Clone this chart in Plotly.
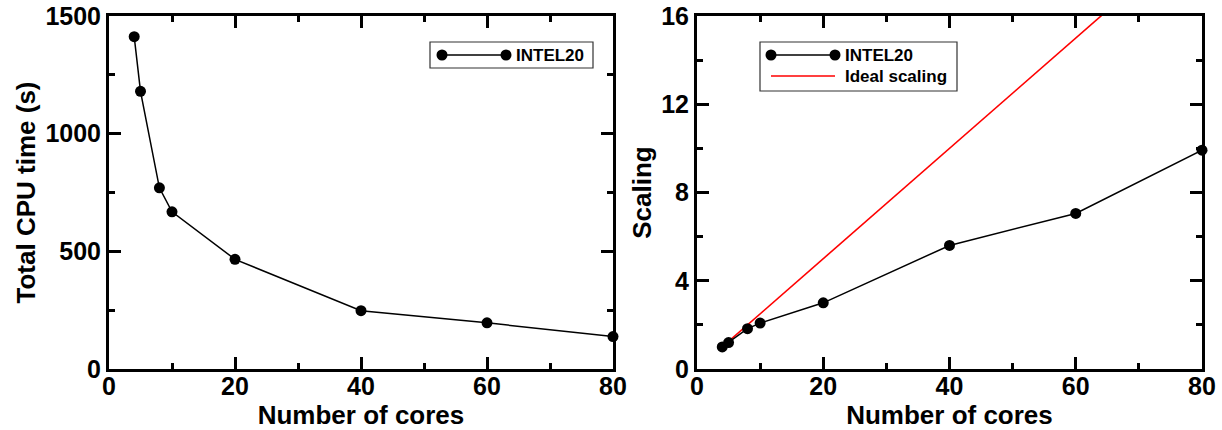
import plotly.graph_objects as go

# ---------------- data ----------------
cores = [4, 5, 8, 10, 20, 40, 60, 80]
cpu_time = [1412, 1180, 770, 668, 466, 248, 196, 138]
scaling = [1.0, 1.2, 1.83, 2.08, 3.0, 5.6, 7.05, 9.92]
ideal_x = [4, 80]
ideal_y = [1, 20]
series_name = "INTEL20"
ideal_name = "Ideal scaling"
x_title = "Number of cores"
y1_title = "Total CPU time (s)"
y2_title = "Scaling"

# ---------------- layout helpers ----------------
W, H = 1222, 430
FONT = "Liberation Sans, Arial, Helvetica, sans-serif"


def px(x):
    return x / W


def py(y):
    return 1 - y / H


fig = go.Figure()

fig.add_trace(go.Scatter(
    x=cores, y=cpu_time, mode="lines+markers", name=series_name,
    line=dict(color="black", width=1.5),
    marker=dict(color="black", size=11, symbol="circle"),
    cliponaxis=False, xaxis="x", yaxis="y", showlegend=False))

fig.add_trace(go.Scatter(
    x=ideal_x, y=ideal_y, mode="lines", name=ideal_name,
    line=dict(color="#ff0000", width=1.6),
    xaxis="x2", yaxis="y2", showlegend=False))

fig.add_trace(go.Scatter(
    x=cores, y=scaling, mode="lines+markers", name=series_name,
    line=dict(color="black", width=1.5),
    marker=dict(color="black", size=11, symbol="circle"),
    cliponaxis=False, xaxis="x2", yaxis="y2", showlegend=False))

tickfont = dict(family=FONT, size=25, color="black", weight="bold")
titlefont = dict(family=FONT, size=26, color="black", weight="bold")


def xax(domain, anchor):
    return dict(domain=domain, anchor=anchor, range=[0, 80], tick0=0, dtick=20,
                ticks="inside", ticklen=12, tickwidth=2.5, tickcolor="black",
                showline=True, linewidth=3, linecolor="black", mirror="ticks",
                showgrid=False, zeroline=False, layer="below traces",
                automargin=False, ticklabelstandoff=-7,
                minor=dict(dtick=10, ticks="inside", ticklen=6, tickwidth=2.5,
                           tickcolor="black", showgrid=False),
                tickfont=tickfont,
                title=dict(text=x_title, font=titlefont, standoff=12))


def yax(domain, anchor, rng, dt, title):
    return dict(domain=domain, anchor=anchor, range=rng, tick0=0, dtick=dt,
                ticks="inside", ticklen=12, tickwidth=2.5, tickcolor="black",
                showline=True, linewidth=3, linecolor="black", mirror="ticks",
                showgrid=False, zeroline=False, layer="below traces",
                automargin=False,
                minor=dict(dtick=dt / 2, ticks="inside", ticklen=6, tickwidth=2.5,
                           tickcolor="black", showgrid=False),
                tickfont=tickfont,
                title=dict(text=title, font=titlefont, standoff=3))


ydom = [py(369), py(16)]
fig.update_layout(
    width=W, height=H,
    margin=dict(l=0, r=0, t=0, b=0),
    paper_bgcolor="white", plot_bgcolor="white",
    showlegend=False,
    xaxis=xax([px(109), px(613)], "y"),
    yaxis=yax(ydom, "x", [0, 1500], 500, y1_title),
    xaxis2=xax([px(697), px(1202)], "y2"),
    yaxis2=yax(ydom, "x2", [0, 16], 4, y2_title),
)

# ---------------- Grace-style legends (decoration) ----------------
shapes = []
annotations = []


def legend_box(x0, y0, x1, y1):
    shapes.append(dict(type="rect", xref="paper", yref="paper",
                       x0=px(x0), x1=px(x1), y0=py(y1), y1=py(y0),
                       line=dict(color="#333333", width=1.2),
                       fillcolor="white", layer="above"))


def dot(x, y):
    shapes.append(dict(type="circle", xref="paper", yref="paper",
                       xsizemode="pixel", ysizemode="pixel",
                       xanchor=px(x), yanchor=py(y),
                       x0=-5.5, x1=5.5, y0=-5.5, y1=5.5,
                       fillcolor="black", line=dict(color="black", width=0),
                       layer="above"))


def seg(x0, x1, y, color, width):
    shapes.append(dict(type="line", xref="paper", yref="paper",
                       x0=px(x0), x1=px(x1), y0=py(y), y1=py(y),
                       line=dict(color=color, width=width), layer="above"))


def label(x, y, text):
    annotations.append(dict(xref="paper", yref="paper", x=px(x), y=py(y),
                            text=text, showarrow=False, xanchor="left",
                            yanchor="middle",
                            font=dict(family=FONT, size=17, color="black",
                                      weight="bold")))


# left legend
legend_box(430, 42, 593, 68)
seg(442, 506, 55, "black", 1.5)
dot(442, 55)
dot(506, 55)
label(514, 55, series_name)

# right legend
legend_box(760, 42, 957, 91)
seg(771, 835, 55, "black", 1.5)
dot(771, 55)
dot(835, 55)
label(843, 55, series_name)
seg(771, 835, 76, "#ff0000", 1.5)
label(843, 76, ideal_name)

fig.update_layout(shapes=shapes, annotations=annotations)

fig.write_html("out.html")
